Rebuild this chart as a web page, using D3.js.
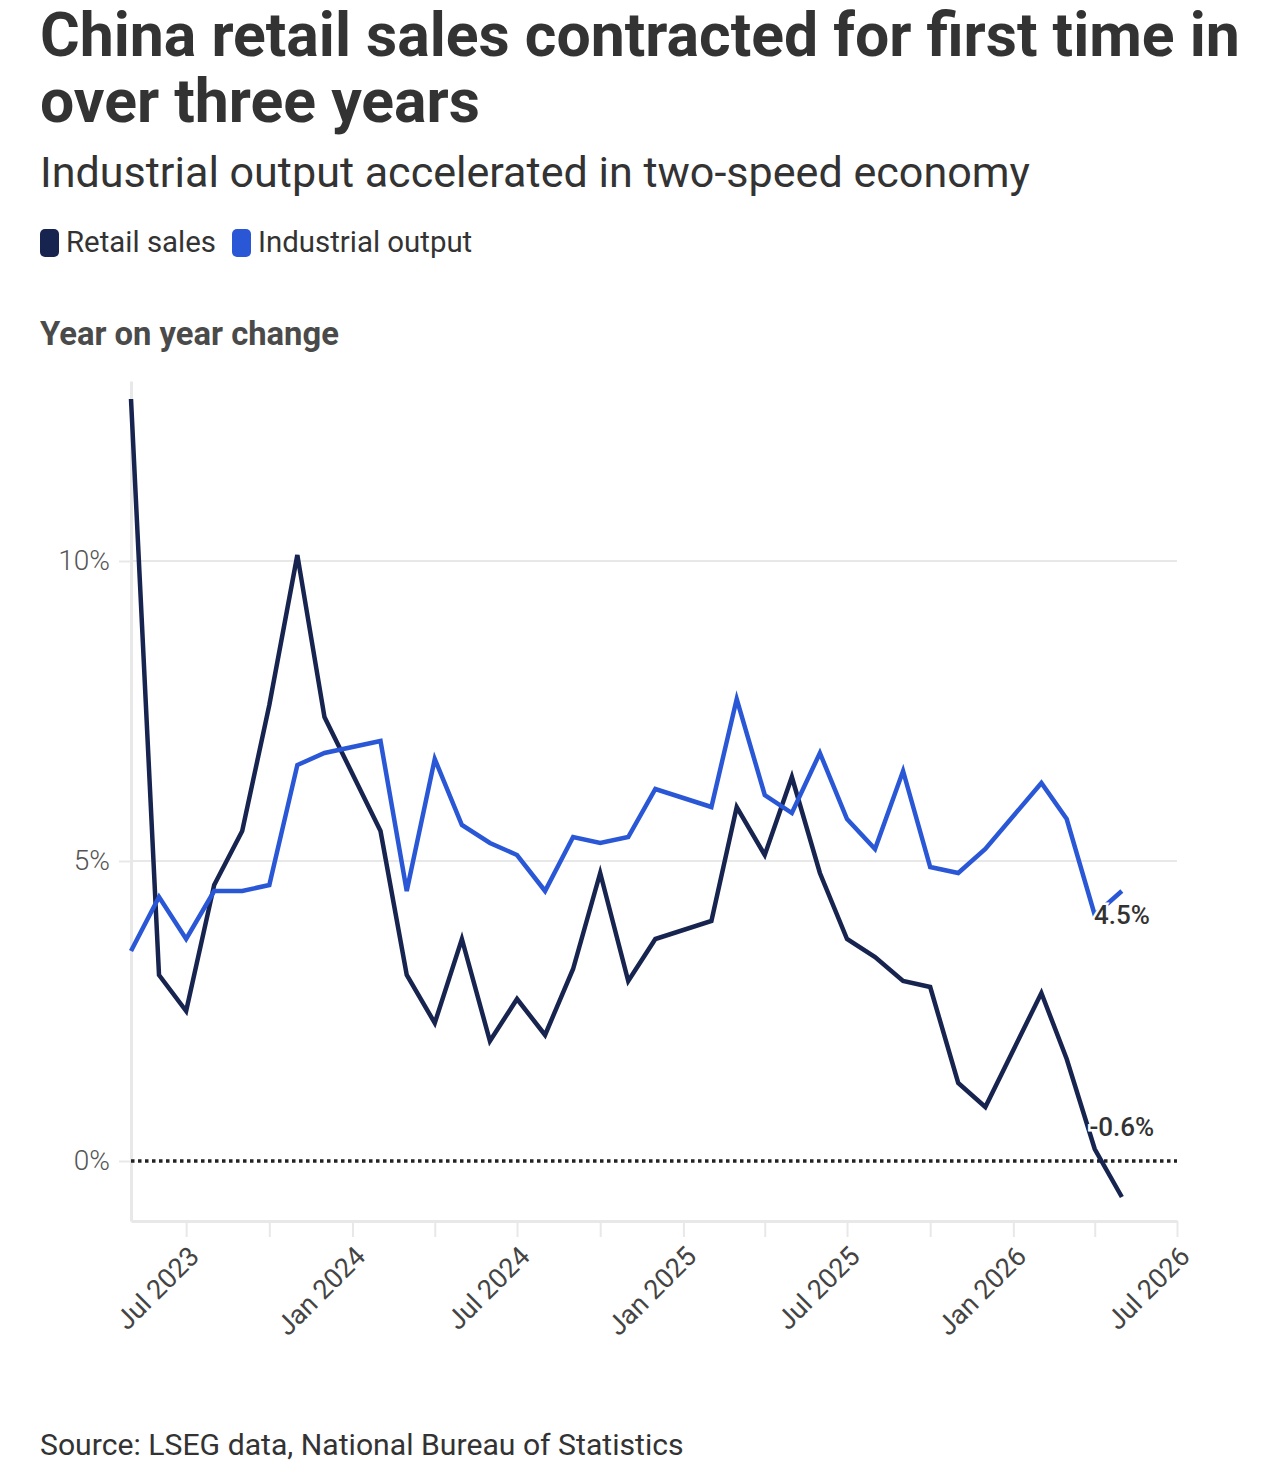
<!DOCTYPE html>
<html>
<head>
<meta charset="utf-8">
<script src="https://cdn.jsdelivr.net/npm/d3@7"></script>
<style>
  body { margin: 0; background: #fff; }
  svg text { font-family: Roboto, "Noto Sans", sans-serif; }
</style>
</head>
<body>
<div id="chart"></div>
<script>
// months shown (no January prints: Jan-Feb is reported together)
const months = [
  "2023-05", "2023-06", "2023-07", "2023-08", "2023-09", "2023-10", "2023-11", "2023-12",
  "2024-02", "2024-03", "2024-04", "2024-05", "2024-06", "2024-07", "2024-08", "2024-09", "2024-10", "2024-11", "2024-12",
  "2025-02", "2025-03", "2025-04", "2025-05", "2025-06", "2025-07", "2025-08", "2025-09", "2025-10", "2025-11", "2025-12",
  "2026-02", "2026-03", "2026-04", "2026-05"
];
const retailSales = [
  12.7, 3.1, 2.5, 4.6, 5.5, 7.6, 10.1, 7.4,
  5.5, 3.1, 2.3, 3.7, 2.0, 2.7, 2.1, 3.2, 4.8, 3.0, 3.7,
  4.0, 5.9, 5.1, 6.4, 4.8, 3.7, 3.4, 3.0, 2.9, 1.3, 0.9,
  2.8, 1.7, 0.2, -0.6
];
const industrialOutput = [
  3.5, 4.4, 3.7, 4.5, 4.5, 4.6, 6.6, 6.8,
  7.0, 4.5, 6.7, 5.6, 5.3, 5.1, 4.5, 5.4, 5.3, 5.4, 6.2,
  5.9, 7.7, 6.1, 5.8, 6.8, 5.7, 5.2, 6.5, 4.9, 4.8, 5.2,
  6.3, 5.7, 4.1, 4.5
];
const seriesNames = ["Retail sales", "Industrial output"];
const seriesColors = ["#17244f", "#2a57d6"];
const yTicks = [0, 5, 10];
const xDomain = ["2023-05", "2026-07"];

const titleLines = ["China retail sales contracted for first time in", "over three years"];
const subtitle = "Industrial output accelerated in two-speed economy";
const axisTitle = "Year on year change";
const source = "Source: LSEG data, National Bureau of Statistics";

const W = 1268, H = 1478;
const margin = { top: 381, right: 91, bottom: 257, left: 131 };
const width = W - margin.left - margin.right;
const height = H - margin.top - margin.bottom;

const parse = d3.timeParse("%Y-%m");
const series = [retailSales, industrialOutput].map((vals, i) => ({
  name: seriesNames[i],
  color: seriesColors[i],
  values: months.map((m, j) => ({ date: parse(m), value: vals[j] }))
}));

const svg = d3.select("#chart").append("svg")
  .attr("width", W)
  .attr("height", H);

// scale text so it spans the same width as in the reference
function fit(sel, w) {
  const len = sel.node().getComputedTextLength();
  sel.attr("font-size", +sel.attr("font-size") * w / len);
  return +sel.attr("font-size");
}

const t1 = svg.append("text")
  .attr("x", 40).attr("y", 56)
  .attr("font-size", 50).attr("font-weight", 700).attr("fill", "#333")
  .text(titleLines[0]);
const titleSize = fit(t1, 1200);
svg.append("text")
  .attr("x", 40).attr("y", 122)
  .attr("font-size", titleSize).attr("font-weight", 700).attr("fill", "#333")
  .text(titleLines[1]);

const sub = svg.append("text")
  .attr("x", 40).attr("y", 187)
  .attr("font-size", 36).attr("fill", "#333")
  .text(subtitle);
fit(sub, 990);

// legend
const leg1 = svg.append("text")
  .attr("x", 66).attr("y", 252)
  .attr("font-size", 26).attr("fill", "#333")
  .text(seriesNames[0]);
const legSize = fit(leg1, 150);
svg.append("rect")
  .attr("x", 40).attr("y", 229).attr("width", 19).attr("height", 28).attr("rx", 5)
  .attr("fill", seriesColors[0]);
const leg2x = 66 + 150 + 16;
svg.append("rect")
  .attr("x", leg2x).attr("y", 229).attr("width", 19).attr("height", 28).attr("rx", 5)
  .attr("fill", seriesColors[1]);
svg.append("text")
  .attr("x", leg2x + 26).attr("y", 252)
  .attr("font-size", legSize).attr("fill", "#333")
  .text(seriesNames[1]);

const yt = svg.append("text")
  .attr("x", 40).attr("y", 345)
  .attr("font-size", 28).attr("font-weight", 700).attr("fill", "#4a4a4a")
  .text(axisTitle);
fit(yt, 299);

const src = svg.append("text")
  .attr("x", 40).attr("y", 1455)
  .attr("font-size", 26).attr("fill", "#333")
  .text(source);
fit(src, 644);

const x = d3.scaleTime()
  .domain(xDomain.map(parse))
  .range([0, width]);

const y = d3.scaleLinear()
  .domain([-1, 13])
  .range([height, 0]);

const g = svg.append("g")
  .attr("transform", `translate(${margin.left}, ${margin.top})`);

// gridlines
g.append("g")
  .selectAll("line")
  .data(yTicks.filter(d => d !== 0))
  .enter()
  .append("line")
  .attr("x1", 0).attr("x2", width)
  .attr("y1", d => y(d)).attr("y2", d => y(d))
  .attr("stroke", "#e8e8e8")
  .attr("stroke-width", 2);

// x axis
const xTickValues = d3.timeMonth.every(3).range(parse("2023-07"), d3.timeMonth.offset(parse("2026-07"), 1));
const xAxis = d3.axisBottom(x)
  .tickValues(xTickValues)
  .tickSize(16)
  .tickSizeOuter(0)
  .tickFormat(d => (d.getMonth() % 6 === 0) ? d3.timeFormat("%b %Y")(d) : "");

const gx = g.append("g")
  .attr("class", "x-axis")
  .attr("transform", `translate(0, ${height})`)
  .call(xAxis);
gx.select(".domain").attr("stroke", "#e8e8e8").attr("stroke-width", 3);
gx.selectAll(".tick line").attr("stroke", "#e8e8e8").attr("stroke-width", 2);
gx.selectAll(".tick text")
  .attr("font-size", 27)
  .attr("font-weight", 400)
  .attr("fill", "#444")
  .attr("text-anchor", "end")
  .attr("x", 0).attr("y", 0).attr("dy", 0)
  .attr("transform", "translate(14, 37) rotate(-45)");

// y axis
const yAxis = d3.axisLeft(y)
  .tickValues(yTicks)
  .tickSize(12)
  .tickPadding(9)
  .tickSizeOuter(0)
  .tickFormat(d => d + "%");

const gy = g.append("g")
  .attr("class", "y-axis")
  .call(yAxis);
gy.select(".domain").attr("stroke", "#e8e8e8").attr("stroke-width", 3);
gy.selectAll(".tick line").attr("stroke", "#e8e8e8").attr("stroke-width", 2);
gy.selectAll(".tick text")
  .attr("font-size", 28)
  .attr("font-weight", 300)
  .attr("fill", "#555");

// zero line
g.append("line")
  .attr("x1", 0).attr("x2", width)
  .attr("y1", y(0)).attr("y2", y(0))
  .attr("stroke", "#222")
  .attr("stroke-width", 3.5)
  .attr("stroke-dasharray", "3.5,3.5");

const line = d3.line()
  .x(d => x(d.date))
  .y(d => y(d.value));

g.selectAll(".series")
  .data(series)
  .enter()
  .append("path")
  .attr("class", "series")
  .attr("d", d => line(d.values))
  .attr("fill", "none")
  .attr("stroke", d => d.color)
  .attr("stroke-width", 4.5);

// end labels
const labelOffset = [-70, 24];
series.forEach((s, i) => {
  const last = s.values[s.values.length - 1];
  g.append("text")
    .attr("x", x(last.date))
    .attr("y", y(last.value) + labelOffset[i])
    .attr("dy", "0.35em")
    .attr("text-anchor", "middle")
    .attr("font-size", 26)
    .attr("font-weight", 500)
    .attr("fill", "#333")
    .attr("stroke", "#fff")
    .attr("stroke-width", 5)
    .attr("paint-order", "stroke")
    .text(d3.format(".1f")(last.value).replace("−", "-") + "%");
});
</script>
</body>
</html>
